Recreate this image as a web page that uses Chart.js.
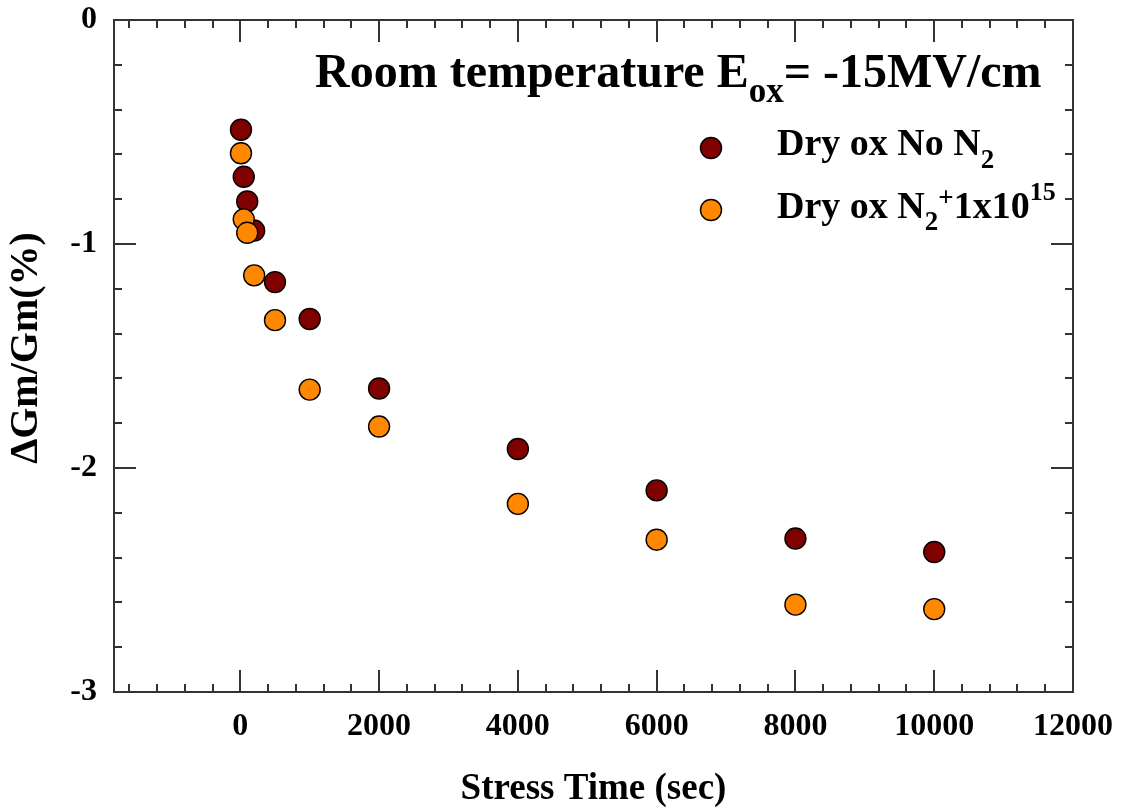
<!DOCTYPE html>
<html>
<head>
<meta charset="utf-8">
<title>Gm degradation vs stress time</title>
<script src="https://cdn.jsdelivr.net/npm/chart.js@4.4.1/dist/chart.umd.min.js"></script>
<style>
  html, body { margin: 0; padding: 0; background: #fff; }
  #wrap { width: 1122px; height: 812px; position: relative; }
</style>
</head>
<body>
<div id="wrap"><canvas id="chart" width="1122" height="812"></canvas></div>
<script>
// Stress time (sec) and the relative transconductance shift (%) of each oxide
const stressTime = [10, 50, 100, 200, 500, 1000, 2000, 4000, 6000, 8000, 10000];
const dryOxNoN2 = [-0.49, -0.70, -0.81, -0.94, -1.17, -1.335, -1.645, -1.915, -2.10, -2.315, -2.375];
const dryOxN2Implant = [-0.595, -0.89, -0.95, -1.14, -1.34, -1.65, -1.815, -2.16, -2.32, -2.61, -2.63];

// Labelled tick values
const xTickValues = [0, 2000, 4000, 6000, 8000, 10000, 12000];
const yTickValues = [0, -1, -2, -3];

const SERIF = "'Liberation Serif', 'Times New Roman', Times, serif";
const DARK_RED = '#800000';
const ORANGE = '#ff8800';

function toPoints(xs, ys) {
  return xs.map((x, i) => ({ x: x, y: ys[i] }));
}

// Frame plus inward major/minor tick marks on all four sides
const frameTicks = {
  id: 'frameTicks',
  beforeDatasetsDraw(chart) {
    const { ctx, chartArea: { left, right, top, bottom }, scales: { x, y } } = chart;
    ctx.save();
    ctx.strokeStyle = '#333';
    ctx.lineWidth = 2;
    ctx.beginPath();
    for (let v = -1600; v <= 12000; v += 400) {
      const px = Math.round(x.getPixelForValue(v));
      const len = (v % 2000 === 0) ? 22 : 8;
      ctx.moveTo(px, bottom); ctx.lineTo(px, bottom - len);
      ctx.moveTo(px, top); ctx.lineTo(px, top + len);
    }
    for (let i = 0; i <= 15; i++) {
      const py = Math.round(y.getPixelForValue(-i * 0.2));
      const len = (i % 5 === 0) ? 22 : 8;
      ctx.moveTo(left, py); ctx.lineTo(left + len, py);
      ctx.moveTo(right, py); ctx.lineTo(right - len, py);
    }
    ctx.stroke();
    ctx.strokeRect(left, top, right - left, bottom - top);
    ctx.restore();
  }
};

// Draws a run of text pieces [text, size, baselineY] left to right
function drawRuns(ctx, x, runs) {
  let cx = x;
  runs.forEach(([text, size, by]) => {
    ctx.font = 'bold ' + size + 'px ' + SERIF;
    ctx.fillText(text, cx, by);
    cx += ctx.measureText(text).width;
  });
}

// Y-axis title, heading and legend
const annotations = {
  id: 'annotations',
  afterDatasetsDraw(chart) {
    const { ctx } = chart;
    ctx.save();
    ctx.fillStyle = '#000';

    // vertical axis title
    ctx.save();
    ctx.translate(27, 348);
    ctx.rotate(-Math.PI / 2);
    ctx.textAlign = 'center';
    ctx.textBaseline = 'middle';
    ctx.font = 'bold 40px ' + SERIF;
    ctx.fillText('ΔGm/Gm(%)', 0, 0);
    ctx.restore();

    ctx.textBaseline = 'alphabetic';
    ctx.textAlign = 'left';

    drawRuns(ctx, 315, [
      ['Room temperature E', 48, 87],
      ['ox', 35, 102],
      ['= -15MV/cm', 48, 87]
    ]);

    const marker = (cx, cy, color) => {
      ctx.beginPath();
      ctx.arc(cx, cy, 10.5, 0, Math.PI * 2);
      ctx.fillStyle = color;
      ctx.fill();
      ctx.lineWidth = 1.4;
      ctx.strokeStyle = '#000';
      ctx.stroke();
      ctx.fillStyle = '#000';
    };
    marker(711, 148, DARK_RED);
    marker(711, 210, ORANGE);

    drawRuns(ctx, 777, [
      ['Dry ox No N', 38, 155],
      ['2', 27, 168]
    ]);
    drawRuns(ctx, 777, [
      ['Dry ox N', 38, 218],
      ['2', 27, 230],
      ['+', 27, 206],
      ['1x10', 38, 218],
      ['15', 26, 200]
    ]);
    ctx.restore();
  }
};

const tickFont = { family: SERIF, size: 32, weight: 'bold' };

new Chart(document.getElementById('chart'), {
  type: 'scatter',
  data: {
    datasets: [
      {
        label: 'Dry ox No N2',
        data: toPoints(stressTime, dryOxNoN2),
        backgroundColor: DARK_RED,
        borderColor: '#000',
        borderWidth: 1.4,
        pointRadius: 10.5,
        pointHoverRadius: 10.5,
        order: 1
      },
      {
        label: 'Dry ox N2+1x10^15',
        data: toPoints(stressTime, dryOxN2Implant),
        backgroundColor: ORANGE,
        borderColor: '#000',
        borderWidth: 1.4,
        pointRadius: 10.5,
        pointHoverRadius: 10.5,
        order: 0
      }
    ]
  },
  options: {
    responsive: false,
    animation: false,
    events: [],
    layout: { padding: { left: 0, top: 20, right: 49, bottom: 0 } },
    plugins: {
      legend: { display: false },
      title: { display: false },
      tooltip: { enabled: false }
    },
    scales: {
      x: {
        type: 'linear',
        min: -1820,
        max: 12000,
        afterBuildTicks: s => { s.ticks = xTickValues.map(v => ({ value: v })); },
        afterFit: s => { s.height = 120; s.paddingLeft = 0; s.paddingRight = 0; },
        grid: { display: false, drawTicks: false },
        border: { display: false },
        ticks: {
          font: tickFont,
          color: '#000',
          padding: 16,
          maxRotation: 0,
          autoSkip: false,
          callback: v => String(v)
        },
        title: {
          display: true,
          text: 'Stress Time (sec)',
          color: '#000',
          font: { family: SERIF, size: 37, weight: 'bold' },
          padding: { top: 0, bottom: 0 }
        }
      },
      y: {
        type: 'linear',
        min: -3,
        max: 0,
        afterBuildTicks: s => { s.ticks = yTickValues.map(v => ({ value: v })); },
        afterFit: s => { s.width = 114; s.paddingTop = 0; s.paddingBottom = 0; },
        grid: { display: false, drawTicks: false },
        border: { display: false },
        ticks: {
          font: tickFont,
          color: '#000',
          padding: 17,
          autoSkip: false,
          callback: v => String(v)
        }
      }
    }
  },
  plugins: [frameTicks, annotations]
});
</script>
</body>
</html>
